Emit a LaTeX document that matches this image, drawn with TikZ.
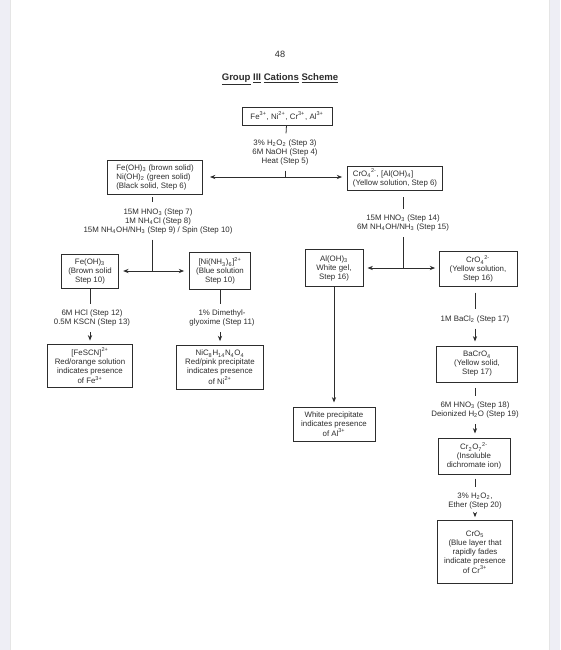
\documentclass[tikz,border=0pt]{standalone}
\usepackage{fontspec}
\setmainfont{Liberation Sans}
\usetikzlibrary{arrows.meta, calc}
\definecolor{pageedge}{RGB}{238,238,245}
\definecolor{ink}{RGB}{45,45,45}
\newcommand{\chup}[1]{\textsuperscript{#1}}
\newcommand{\chdn}[1]{\textsubscript{#1}}

\begin{document}
\begin{tikzpicture}[x=0.025cm, y=-0.025cm,
  stepbox/.style={draw=ink, line width=0.5pt, align=center, inner sep=1.5pt, text=ink, font={\fontsize{5.6}{6.4}\selectfont}},
  reag/.style={align=center, inner sep=4pt, text=ink, font={\fontsize{5.6}{6.4}\selectfont}},
  link/.style={draw=ink, line width=0.55pt},
  arr/.style={link, -{Stealth[length=3.8pt, width=3pt]}},
  biarr/.style={link, {Stealth[length=3.8pt, width=3pt]}-{Stealth[length=3.8pt, width=3pt]}}
]
  \useasboundingbox (0,0) rectangle (560,650);
  % page
  \fill[pageedge] (0,0) rectangle (560,650);
  \fill[white] (10,0) rectangle (549,650);
  \draw[black!10, line width=0.4pt] (10,0) -- (10,650) (549,0) -- (549,650);

  % heading
  \node[text=ink, font={\fontsize{6.5}{8}\selectfont}] (pgnum) at (280,54) {48};
  \node[text=ink, font={\bfseries\fontsize{6.8}{8}\selectfont}] (title) at (280,79)
    {\underline{Group} \underline{III} \underline{Cations} \underline{Scheme}};

  % starting mixture and first separation
  \node[stepbox, minimum width=2.25cm, minimum height=0.45cm] (top) at (287,116)
    {Fe\chup{3+}, Ni\chup{2+}, Cr\chup{3+}, Al\chup{3+}};
  \node[reag] (r1) at (285,152)
    {3\% H\chdn{2}O\chdn{2} (Step 3)\\6M NaOH (Step 4)\\Heat (Step 5)};
  \coordinate (s1) at (285,177);
  \node[stepbox, align=left, minimum width=2.38cm, minimum height=0.85cm] (feni) at (155,177)
    {Fe(OH)\chdn{3} (brown solid)\\Ni(OH)\chdn{2} (green solid)\\(Black solid, Step 6)};
  \node[stepbox, align=left, minimum width=2.38cm, minimum height=0.6cm] (crom) at (395,178)
    {CrO\chdn{4}\chup{2-}, [Al(OH)\chdn{4}]\\(Yellow solution, Step 6)};
  \draw[link] (top) -- (r1);
  \draw[link] (r1) -- (s1);
  \draw[biarr, shorten <=5pt, shorten >=3.5pt] (feni) -- (crom.west |- s1);

  % iron / nickel branch
  \coordinate (s2) at (152,271);
  \node[reag] (r2) at (158,221)
    {15M HNO\chdn{3} (Step 7)\\1M NH\chdn{4}Cl (Step 8)\\15M NH\chdn{4}OH/NH\chdn{3} (Step 9) / Spin (Step 10)};
  \node[stepbox, minimum width=1.43cm, minimum height=0.85cm] (feoh) at (90,271)
    {Fe(OH)\chdn{3}\\(Brown solid\\Step 10)};
  \node[stepbox, minimum width=1.53cm, minimum height=0.93cm] (ninh) at (220,271)
    {[Ni(NH\chdn{3})\chdn{6}]\chup{2+}\\(Blue solution\\Step 10)};
  \draw[link, shorten <=2pt] (feni.south -| s2) -- (r2.north -| s2);
  \draw[link] (r2.south -| s2) -- (s2);
  \draw[biarr, shorten <=3pt, shorten >=3.5pt] (feoh) -- (ninh);

  \node[reag] (r3) at (92,318) {6M HCl (Step 12)\\0.5M KSCN (Step 13)};
  \node[stepbox, minimum width=2.13cm, minimum height=1.08cm] (fescn) at (90,366)
    {[FeSCN]\chup{2+}\\Red/orange solution\\indicates presence\\of Fe\chup{3+}};
  \draw[link] (feoh.south) -- (feoh.south |- r3.north);
  \draw[arr, shorten >=2.5pt] (r3.south -| fescn) -- (fescn);

  \node[reag] (r4) at (222,318) {1\% Dimethyl-\\glyoxime (Step 11)};
  \node[stepbox, minimum width=2.18cm, minimum height=1.1cm] (nidmg) at (220,367)
    {NiC\chdn{8}H\chdn{14}N\chdn{4}O\chdn{4}\\Red/pink precipitate\\indicates presence\\of Ni\chup{2+}};
  \draw[link] (ninh.south) -- (ninh.south |- r4.north);
  \draw[arr, shorten >=2.5pt] (r4.south -| nidmg) -- (nidmg);

  % aluminium / chromium branch
  \coordinate (s3) at (403,268);
  \node[reag] (r5) at (403,223) {15M HNO\chdn{3} (Step 14)\\6M NH\chdn{4}OH/NH\chdn{3} (Step 15)};
  \node[stepbox, minimum width=1.45cm, minimum height=0.93cm] (aloh) at (334,268)
    {Al(OH)\chdn{3}\\White gel,\\Step 16)};
  \node[stepbox, minimum width=1.95cm, minimum height=0.88cm] (cro4) at (478,269)
    {CrO\chdn{4}\chup{2-}\\(Yellow solution,\\Step 16)};
  \draw[link, shorten <=5pt] (crom.south -| s3) -- (r5.north -| s3);
  \draw[link] (r5) -- (s3);
  \draw[biarr, shorten <=3pt, shorten >=2.5pt] (aloh) -- (cro4.west |- s3);

  \node[stepbox, minimum width=2.05cm, minimum height=0.85cm] (alwhite) at (334,424)
    {White precipitate\\indicates presence\\of Al\chup{3+}};
  \draw[arr, shorten >=3pt] (aloh) -- (alwhite);

  \node[reag] (r6) at (475,319) {1M BaCl\chdn{2} (Step 17)};
  \node[stepbox, minimum width=2.03cm, minimum height=0.9cm] (bacro4) at (477,364)
    {BaCrO\chdn{4}\\(Yellow solid,\\Step 17)};
  \draw[link, shorten <=4pt] (cro4.south -| r6) -- (r6);
  \draw[arr, shorten >=3pt] (r6) -- (r6 |- bacro4.north);

  \node[reag] (r7) at (475,410) {6M HNO\chdn{3} (Step 18)\\Deionized H\chdn{2}O (Step 19)};
  \node[stepbox, minimum width=1.8cm, minimum height=0.9cm] (cr2o7) at (474,456)
    {Cr\chdn{2}O\chdn{7}\chup{2-}\\(Insoluble\\dichromate ion)};
  \draw[link, shorten <=4pt] (bacro4.south -| r7) -- (r7);
  \draw[arr, shorten >=3pt] (r7) -- (r7 |- cr2o7.north);

  \node[reag] (r8) at (475,501) {3\% H\chdn{2}O\chdn{2},\\Ether (Step 20)};
  \node[stepbox, minimum width=1.88cm, minimum height=1.58cm] (cro5) at (475,552)
    {CrO\chdn{5}\\(Blue layer that\\rapidly fades\\indicate presence\\of Cr\chup{3+}};
  \draw[link, shorten <=3pt] (cr2o7.south -| r8) -- (r8);
  \draw[arr, shorten >=2pt] (r8) -- (r8 |- cro5.north);
\end{tikzpicture}
\end{document}
